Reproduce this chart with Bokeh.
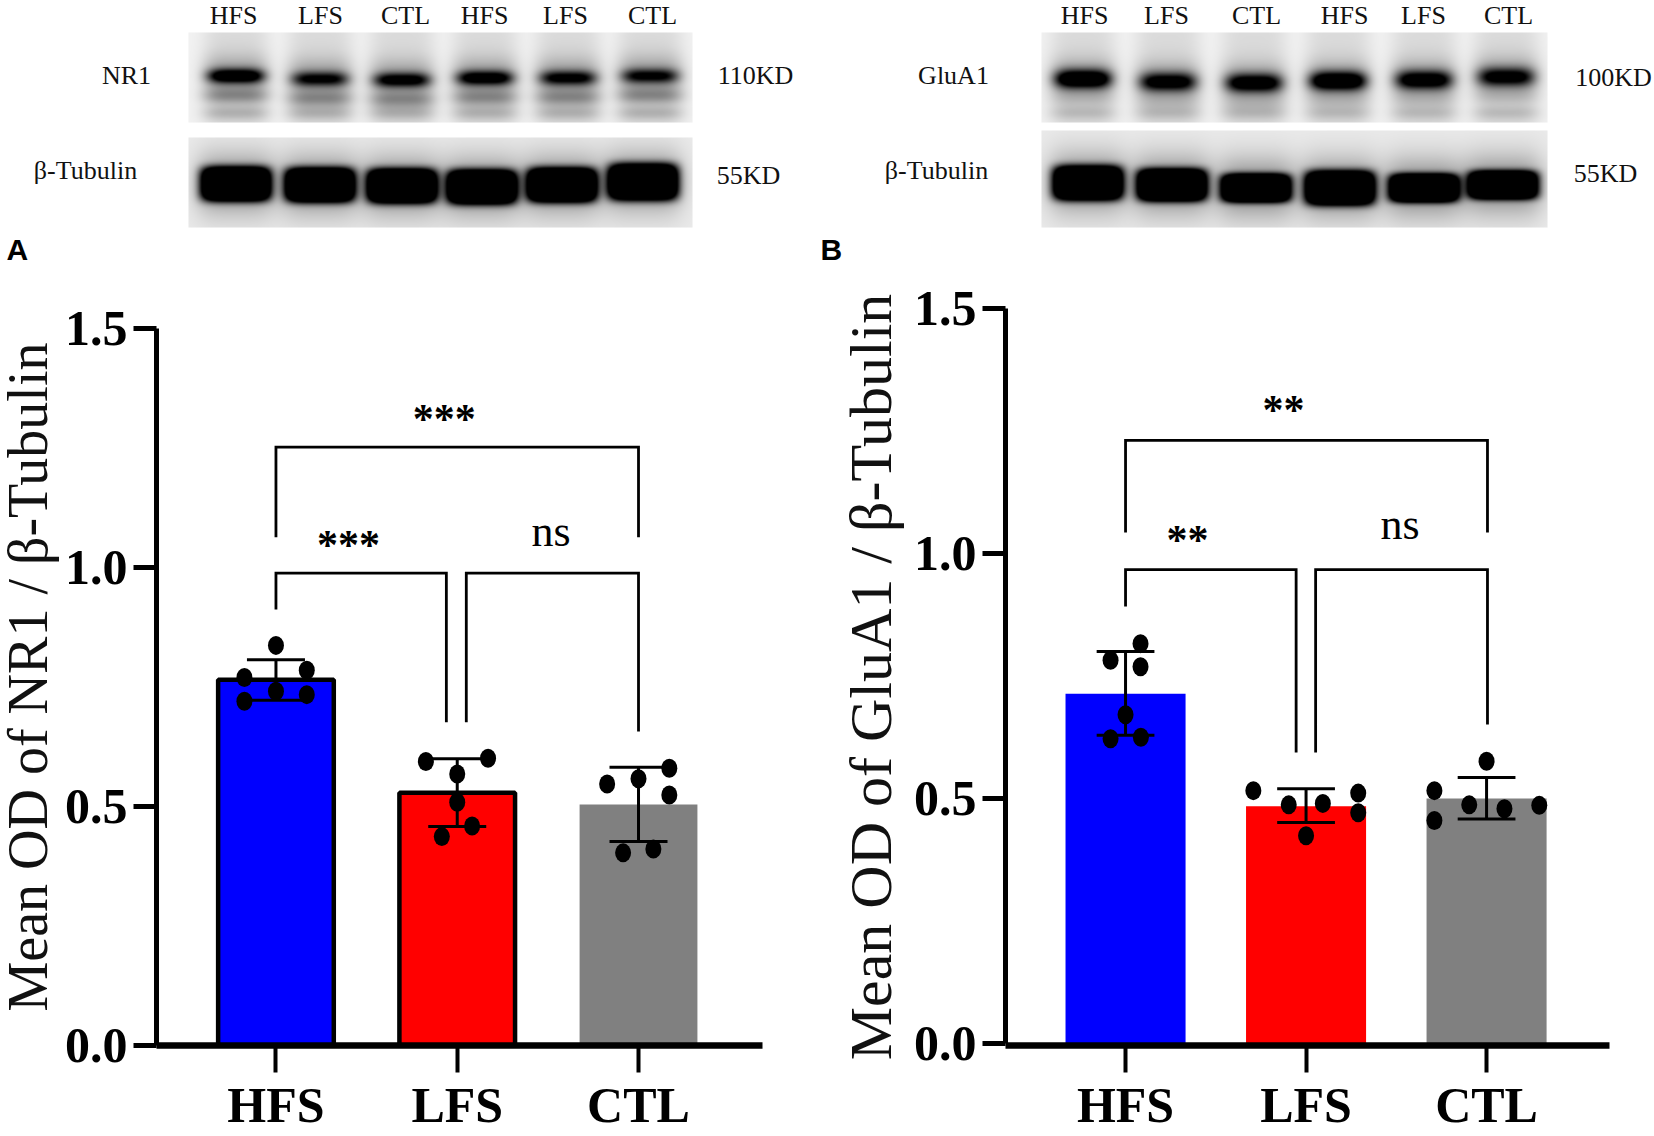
import numpy as np
from bokeh.embed import file_html
from bokeh.resources import INLINE
from bokeh.plotting import figure
from bokeh.layouts import column, row
from bokeh.models import Range1d, FixedTicker
from bokeh.core.properties import value

SERIF = "Liberation Serif"
categories = ["HFS", "LFS", "CTL"]
bar_colors = ["#0000ff", "#ff0000", "#808080"]

# Panel A: NR1
a_means = [0.765, 0.529, 0.504]
a_err_low = [0.722, 0.458, 0.427]
a_err_high = [0.807, 0.600, 0.582]
a_points = [[0.837, 0.770, 0.785, 0.741, 0.734, 0.720],
            [0.594, 0.601, 0.568, 0.509, 0.459, 0.437],
            [0.547, 0.558, 0.580, 0.524, 0.411, 0.403]]
a_jitter = [[0, -0.174, 0.17, 0, 0.17, -0.174],
            [-0.173, 0.17, 0, 0, 0.082, -0.085],
            [-0.173, 0, 0.17, 0.17, 0.082, -0.085]]
a_outlined = [True, True, False]

# Panel B: GluA1
b_means = [0.714, 0.484, 0.500]
b_err_low = [0.629, 0.451, 0.458]
b_err_high = [0.800, 0.520, 0.543]
b_points = [[0.816, 0.782, 0.769, 0.671, 0.622, 0.625],
            [0.516, 0.487, 0.490, 0.511, 0.471, 0.424],
            [0.516, 0.455, 0.487, 0.479, 0.486, 0.576]]
b_jitter = [[0.083, -0.083, 0.083, 0, -0.083, 0.085],
            [-0.292, -0.096, 0.093, 0.289, 0.289, 0],
            [-0.289, -0.289, -0.096, 0.099, 0.292, 0]]
b_outlined = [False, False, False]

# Significance brackets as polylines (x in group units, y in OD units)
a_brackets = [([1, 1, 3, 3], [1.063, 1.252, 1.252, 1.063]),
              ([1, 1, 1.94, 1.94], [0.912, 0.988, 0.988, 0.676]),
              ([2.05, 2.05, 3, 3], [0.676, 0.988, 0.988, 0.657])]
a_marks = [("***", 1.928, 1.311), ("***", 1.40, 1.047), ("ns", 2.518, 1.076)]
b_brackets = [([1, 1, 3.005, 3.005], [1.043, 1.231, 1.231, 1.043]),
              ([1, 1, 1.945, 1.945], [0.892, 0.967, 0.967, 0.594]),
              ([2.053, 2.053, 3.005, 3.005], [0.594, 0.967, 0.967, 0.651])]
b_marks = [("**", 1.875, 1.293), ("**", 1.343, 1.027), ("ns", 2.521, 1.060)]

# Blot description (pixel-space of the header strip)
nr1_lanes = [235, 319, 401, 484, 567, 649]
nr1_bands = [0.95, 0.68, 0.78, 0.85, 0.72, 0.68]
nr1_rows = [75, 78, 79, 77, 77, 75]
tub_a_lanes = [235, 319, 401, 481, 561, 642]
tub_a_rows = [183, 184, 185, 186, 184, 181]
tub_a_half_h = [13, 13, 13, 13, 13, 14]
glu_lanes = [1082, 1167, 1253, 1337, 1423, 1505]
glu_bands = [1.05, 0.82, 0.88, 1.05, 0.88, 0.78]
glu_rows = [78, 81, 82, 80, 79, 76]
tub_b_lanes = [1087, 1171, 1255, 1339, 1423, 1502]
tub_b_rows = [182, 184, 187, 187, 187, 184]
tub_b_half_h = [13, 12, 10, 13, 10, 10]

header_labels = [
    ("HFS", 233, 15), ("LFS", 320, 15), ("CTL", 405, 15), ("HFS", 484, 15), ("LFS", 565, 15), ("CTL", 652, 15),
    ("NR1", 126, 75), ("110KD", 755, 75), ("β-Tubulin", 85, 170), ("55KD", 748, 175),
    ("HFS", 1084, 15), ("LFS", 1166, 15), ("CTL", 1256, 15), ("HFS", 1344, 15), ("LFS", 1423, 15), ("CTL", 1508, 15),
    ("GluA1", 953, 75), ("100KD", 1613, 77), ("β-Tubulin", 936, 170), ("55KD", 1605, 173),
]


def to_rgba(dark):
    g = np.clip(1 - dark, 0, 1)
    v = (g * 255).astype(np.uint32)
    return (255 << 24) | (v << 16) | (v << 8) | v


def band_blot(x0, x1, y0, y1, lanes, amps, rows, tail, band_h):
    xs, ys = np.meshgrid(np.arange(x0, x1), np.arange(y0, y1))
    d = np.full(xs.shape, 0.05, dtype=float)
    for c, a, r in zip(lanes, amps, rows):
        lane = np.exp(-((xs - c) / 33.0) ** 4)
        d += lane * 0.09
        d += lane * 0.28 * np.exp(-((ys - r) / 20.0) ** 2)
        d += lane * tail[0] * np.exp(-((ys - (r + 20)) / 8.0) ** 2)
        d += lane * tail[1] * np.exp(-((ys - 112) / 7.0) ** 2)
        d += a * np.exp(-((xs - c) / 28.0) ** 4) * np.exp(-((ys - r) / band_h) ** 2)
    return to_rgba(d)


def tubulin_blot(x0, x1, y0, y1, lanes, rows, half_h):
    xs, ys = np.meshgrid(np.arange(x0, x1), np.arange(y0, y1))
    d = np.full(xs.shape, 0.08, dtype=float)
    for c, r, h in zip(lanes, rows, half_h):
        d += 0.38 * np.exp(-((xs - c) / 40.0) ** 4) * np.exp(-((ys - r) / 30.0) ** 2)
        d += 1.7 * np.exp(-((xs - c) / 35.0) ** 6) * np.exp(-((ys - r) / (h + 4.0)) ** 4)
    return to_rgba(d)


def add_image(p, arr, x0, x1, y0, y1):
    p.image_rgba(image=[arr], x=x0, y=y0, dw=x1 - x0, dh=y1 - y0)


top = figure(width=1654, height=268, x_range=Range1d(0, 1654), y_range=Range1d(268, 0),
             output_backend="svg", toolbar_location=None, min_border=0, outline_line_color=None)
top.axis.visible = False
top.grid.visible = False
add_image(top, band_blot(188, 692, 32, 122, nr1_lanes, nr1_bands, nr1_rows, (0.24, 0.16), 7.0), 188, 692, 32, 122)
add_image(top, tubulin_blot(188, 692, 137, 227, tub_a_lanes, tub_a_rows, tub_a_half_h), 188, 692, 137, 227)
add_image(top, band_blot(1041, 1547, 32, 122, glu_lanes, glu_bands, glu_rows, (0.06, 0.12), 9.0), 1041, 1547, 32, 122)
add_image(top, tubulin_blot(1041, 1547, 130, 227, tub_b_lanes, tub_b_rows, tub_b_half_h), 1041, 1547, 130, 227)
top.text(x=[t[1] for t in header_labels], y=[t[2] for t in header_labels], text=[t[0] for t in header_labels],
         text_font=value(SERIF), text_font_size="26px", text_align="center", text_baseline="middle", text_color="#111111")
top.text(x=[6, 820], y=[249, 249], text=["A", "B"], text_font=value("Liberation Sans"), text_font_style="bold",
         text_font_size="30px", text_align="left", text_baseline="middle", text_color="#000000")


def panel(ylabel, means, low, high, points, jitter, outlined, brackets, marks,
          x_start, x_end, y_start, y_end, bar_w, fig_width, border_left, border_right, margin_left,
          title_size, title_standoff):
    p = figure(width=fig_width, height=868, x_range=Range1d(x_start, x_end), y_range=Range1d(y_start, y_end),
               output_backend="svg", toolbar_location=None, outline_line_color=None,
               min_border_left=border_left, min_border_right=border_right,
               min_border_top=40, min_border_bottom=91, margin=(0, 0, 0, margin_left))
    p.grid.visible = False
    xs = [1, 2, 3]
    for x, m, col, o in zip(xs, means, bar_colors, outlined):
        if o:
            p.vbar(x=x, top=m, bottom=0, width=bar_w - 0.012, fill_color=col, line_color="#000000", line_width=4.5)
        else:
            p.vbar(x=x, top=m, bottom=0, width=bar_w, fill_color=col, line_color=None)
    for brx, bry in brackets:
        p.line(brx, bry, line_color="#000000", line_width=2.8, line_join="miter")
    p.segment(x0=xs, x1=xs, y0=low, y1=high, line_color="#000000", line_width=3)
    cap = 0.16
    for vals in (low, high):
        p.segment(x0=[x - cap for x in xs], x1=[x + cap for x in xs], y0=vals, y1=vals, line_color="#000000", line_width=3)
    dx = [x + j for x, js in zip(xs, jitter) for j in js]
    dy = [v for vs in points for v in vs]
    p.ellipse(x=dx, y=dy, width=16, height=19, width_units="screen", height_units="screen",
              fill_color="#000000", line_color=None)
    for txt, mx, my in marks:
        p.text(x=[mx], y=[my], text=[txt], text_font=value(SERIF), text_font_style="bold" if "*" in txt else "normal",
               text_font_size="42px" if "*" in txt else "44px", text_align="center", text_baseline="alphabetic", text_color="#000000")

    ya = p.yaxis[0]
    ya.ticker = FixedTicker(ticks=[0, 0.5, 1.0, 1.5])
    ya.major_label_overrides = {0: "0.0", 0.5: "0.5", 1.0: "1.0", 1.5: "1.5"}
    ya.bounds = (0, 1.5)
    ya.axis_line_width = 5
    ya.major_tick_line_width = 5
    ya.major_tick_out = 23
    ya.major_tick_in = 0
    ya.minor_tick_line_color = None
    ya.major_label_text_font = SERIF
    ya.major_label_text_font_style = "bold"
    ya.major_label_text_font_size = "50px"
    ya.major_label_text_color = "#000000"
    ya.major_label_standoff = 6
    ya.axis_label = ylabel
    ya.axis_label_text_font = SERIF
    ya.axis_label_text_font_style = "normal"
    ya.axis_label_text_font_size = title_size
    ya.axis_label_text_color = "#111111"
    ya.axis_label_standoff = title_standoff

    xa = p.xaxis[0]
    xa.ticker = FixedTicker(ticks=xs)
    xa.major_label_overrides = dict(zip(xs, categories))
    xa.axis_line_width = 6.5
    xa.major_tick_line_width = 4
    xa.major_tick_out = 27
    xa.major_tick_in = 0
    xa.minor_tick_line_color = None
    xa.major_label_text_font = SERIF
    xa.major_label_text_font_style = "bold"
    xa.major_label_text_font_size = "50px"
    xa.major_label_text_color = "#000000"
    xa.major_label_standoff = 4
    return p


pa = panel("Mean OD of NR1 / β-Tubulin", a_means, a_err_low, a_err_high, a_points, a_jitter, a_outlined,
           a_brackets, a_marks, 0.341, 3.684, 0, 1.5418, 0.65, 856, 185, 65, -29, "56px", 3)
pb = panel("Mean OD of GluA1 / β-Tubulin", b_means, b_err_low, b_err_high, b_points, b_jitter, b_outlined,
           b_brackets, b_marks, 0.335, 3.681, -0.0041, 1.5, 0.665, 827, 178, 45, 0, "60px", 7)

page = column(top, row(pa, pb, spacing=0), spacing=0)
open("out.html", "w").write(file_html(page, INLINE))
